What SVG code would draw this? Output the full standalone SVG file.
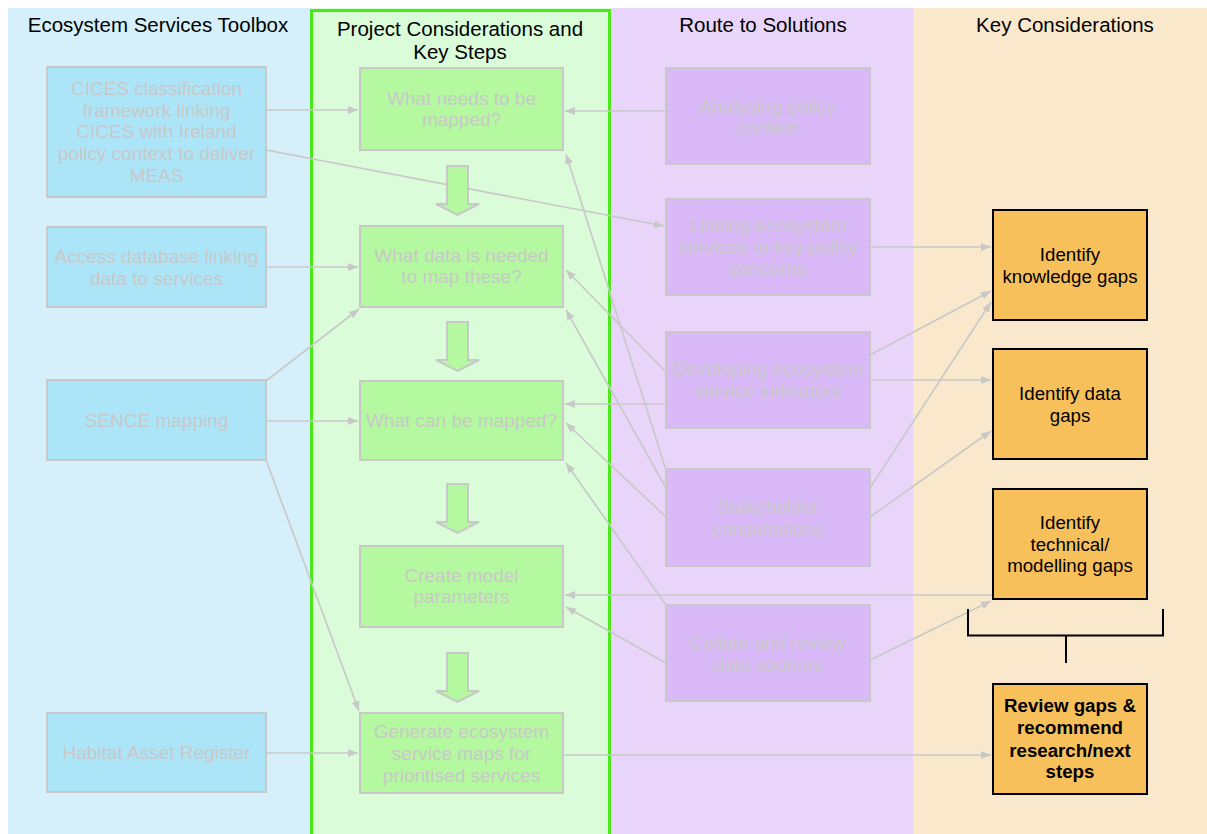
<svg xmlns="http://www.w3.org/2000/svg" width="1207" height="834" viewBox="0 0 1207 834">
<defs>
<style>
text{font-family:"Liberation Sans",Arial,sans-serif;text-anchor:middle}
.title{font-size:20.5px;fill:#000}
.t{font-size:19px;fill:#c8c8c8}
.tk{font-size:18.7px;fill:#000}
.tb{font-size:18.7px;fill:#000;font-weight:bold}
.n1{fill:#ade5f8;stroke:#c8c8c8;stroke-width:2}
.n2{fill:#b4f8a0;stroke:#c8c8c8;stroke-width:2}
.n3{fill:#dab9f8;stroke:#c8c8c8;stroke-width:2}
.n4{fill:#f8c05a;stroke:#000;stroke-width:2}
.blk{fill:#b4f8a0;stroke:#c8c8c8;stroke-width:2}
.c{fill:none;stroke:#c8c8c8;stroke-width:1.6;marker-end:url(#ah)}
.br{fill:none;stroke:#000;stroke-width:2}
</style>
<marker id="ah" markerUnits="userSpaceOnUse" markerWidth="11" markerHeight="9" refX="10" refY="4" orient="auto">
<path d="M0,0 L10,4 L0,8 z" fill="#c8c8c8"/>
</marker>
</defs>
<rect x="0" y="0" width="1207" height="834" fill="#fff"/>
<g id="lanes">
<rect x="8" y="8" width="303" height="826" fill="#d5f0fa"/>
<rect x="311" y="8" width="300" height="826" fill="#dafcd9"/>
<rect x="611" y="8" width="302" height="826" fill="#e9d5fa"/>
<rect x="913" y="8" width="294" height="826" fill="#fae8cc"/>
<rect x="311.5" y="10.5" width="298" height="830" fill="none" stroke="#4be81a" stroke-width="3"/>
<text class="title" x="158" y="32">Ecosystem Services Toolbox</text>
<text class="title" x="460" y="36">Project Considerations and</text>
<text class="title" x="460" y="59">Key Steps</text>
<text class="title" x="763" y="32">Route to Solutions</text>
<text class="title" x="1065" y="32">Key Considerations</text>
</g>
<g id="connectors">
<path class="c" d="M266,110 L358,110"/>
<path class="c" d="M266,150 L664,226"/>
<path class="c" d="M266,267 L358,267"/>
<path class="c" d="M266,381 L359,309"/>
<path class="c" d="M266,421 L358,421"/>
<path class="c" d="M266,460 L359,711"/>
<path class="c" d="M266,753 L358,753"/>
<path class="c" d="M666,111 L565,111"/>
<path class="c" d="M666,470 L566,154"/>
<path class="c" d="M666,372 L566,270"/>
<path class="c" d="M666,488 L566,310"/>
<path class="c" d="M666,404 L565,404"/>
<path class="c" d="M666,517 L566,423"/>
<path class="c" d="M666,605 L566,463"/>
<path class="c" d="M993,595 L565,595"/>
<path class="c" d="M666,663 L566,607"/>
<path class="c" d="M870,247 L991,247"/>
<path class="c" d="M870,355 L991,291"/>
<path class="c" d="M870,380 L991,380"/>
<path class="c" d="M870,488 L991,302"/>
<path class="c" d="M870,517 L991,431"/>
<path class="c" d="M870,660 L991,601"/>
<path class="c" d="M563,755 L991,755"/>
</g>
<g id="flow-arrows">
<polygon class="blk" points="447,166 468,166 468,204 479,204 457.5,215 436,204 447,204"/>
<polygon class="blk" points="447,322 468,322 468,360 479,360 457.5,371 436,360 447,360"/>
<polygon class="blk" points="447,484 468,484 468,522 479,522 457.5,533 436,522 447,522"/>
<polygon class="blk" points="447,653 468,653 468,691 479,691 457.5,702 436,691 447,691"/>
</g>
<g id="cices"><rect class="n1" x="47" y="67" width="219" height="130"/>
<text class="t" x="156.5" y="95">CICES classification</text>
<text class="t" x="156.5" y="116.7">framework linking</text>
<text class="t" x="156.5" y="138.4">CICES with Ireland</text>
<text class="t" x="156.5" y="160.1">policy context to deliver</text>
<text class="t" x="156.5" y="181.8">MEAS</text></g>
<g id="access"><rect class="n1" x="47" y="227" width="219" height="80"/>
<text class="t" x="156.5" y="263.3">Access database linking</text>
<text class="t" x="156.5" y="284.5">data to services</text></g>
<g id="sence"><rect class="n1" x="47" y="380" width="219" height="80"/>
<text class="t" x="156.5" y="427">SENCE mapping</text></g>
<g id="habitat"><rect class="n1" x="47" y="713" width="219" height="79"/>
<text class="t" x="156.5" y="759.3">Habitat Asset Register</text></g>
<g id="what-needs"><rect class="n2" x="360" y="68" width="203" height="82"/>
<text class="t" x="461.5" y="105">What needs to be</text>
<text class="t" x="461.5" y="126">mapped?</text></g>
<g id="what-data"><rect class="n2" x="360" y="226" width="203" height="81"/>
<text class="t" x="461.5" y="261.7">What data is needed</text>
<text class="t" x="461.5" y="283.3">to map these?</text></g>
<g id="what-can"><rect class="n2" x="360" y="381" width="203" height="79"/>
<text class="t" x="461.5" y="426.7">What can be mapped?</text></g>
<g id="create-model"><rect class="n2" x="360" y="546" width="203" height="81"/>
<text class="t" x="461.5" y="581.7">Create model</text>
<text class="t" x="461.5" y="603.3">parameters</text></g>
<g id="generate"><rect class="n2" x="360" y="713" width="203" height="80"/>
<text class="t" x="461.5" y="738.3">Generate ecosystem</text>
<text class="t" x="461.5" y="760">service maps for</text>
<text class="t" x="461.5" y="781.7">prioritised services</text></g>
<g id="analysing"><rect class="n3" x="666" y="68" width="204" height="96"/>
<text class="t" x="768" y="113">Analysing policy</text>
<text class="t" x="768" y="134">context</text></g>
<g id="linking"><rect class="n3" x="666" y="199" width="204" height="96"/>
<text class="t" x="768" y="231.5">Linking ecosystem</text>
<text class="t" x="768" y="253">services to key policy</text>
<text class="t" x="768" y="274.5">concerns</text></g>
<g id="developing"><rect class="n3" x="666" y="332" width="204" height="96"/>
<text class="t" x="768" y="375">Developing ecosystem</text>
<text class="t" x="768" y="396.5">service indicators</text></g>
<g id="stakeholder"><rect class="n3" x="666" y="469" width="204" height="97"/>
<text class="t" x="768" y="513">Stakeholder</text>
<text class="t" x="768" y="534.5">consultations</text></g>
<g id="collate"><rect class="n3" x="666" y="605" width="204" height="96"/>
<text class="t" x="768" y="649.3">Collate and review</text>
<text class="t" x="768" y="671">data sources</text></g>
<g id="knowledge-gaps"><rect class="n4" x="993" y="210" width="154" height="110"/>
<text class="tk" x="1070" y="261">Identify</text>
<text class="tk" x="1070" y="283">knowledge gaps</text></g>
<g id="data-gaps"><rect class="n4" x="993" y="349" width="154" height="110"/>
<text class="tk" x="1070" y="400">Identify data</text>
<text class="tk" x="1070" y="422">gaps</text></g>
<g id="technical-gaps"><rect class="n4" x="993" y="489" width="154" height="110"/>
<text class="tk" x="1070" y="529">Identify</text>
<text class="tk" x="1070" y="550.5">technical/</text>
<text class="tk" x="1070" y="572">modelling gaps</text></g>
<g id="bracket"><path class="br" d="M968,609 V635.5 H1163 V609 M1066,635.5 V663"/></g>
<g id="review"><rect class="n4" x="993" y="684" width="154" height="110"/>
<text class="tb" x="1070" y="712.3">Review gaps &amp;</text>
<text class="tb" x="1070" y="734.3">recommend</text>
<text class="tb" x="1070" y="756.5">research/next</text>
<text class="tb" x="1070" y="778.3">steps</text></g>
</svg>
